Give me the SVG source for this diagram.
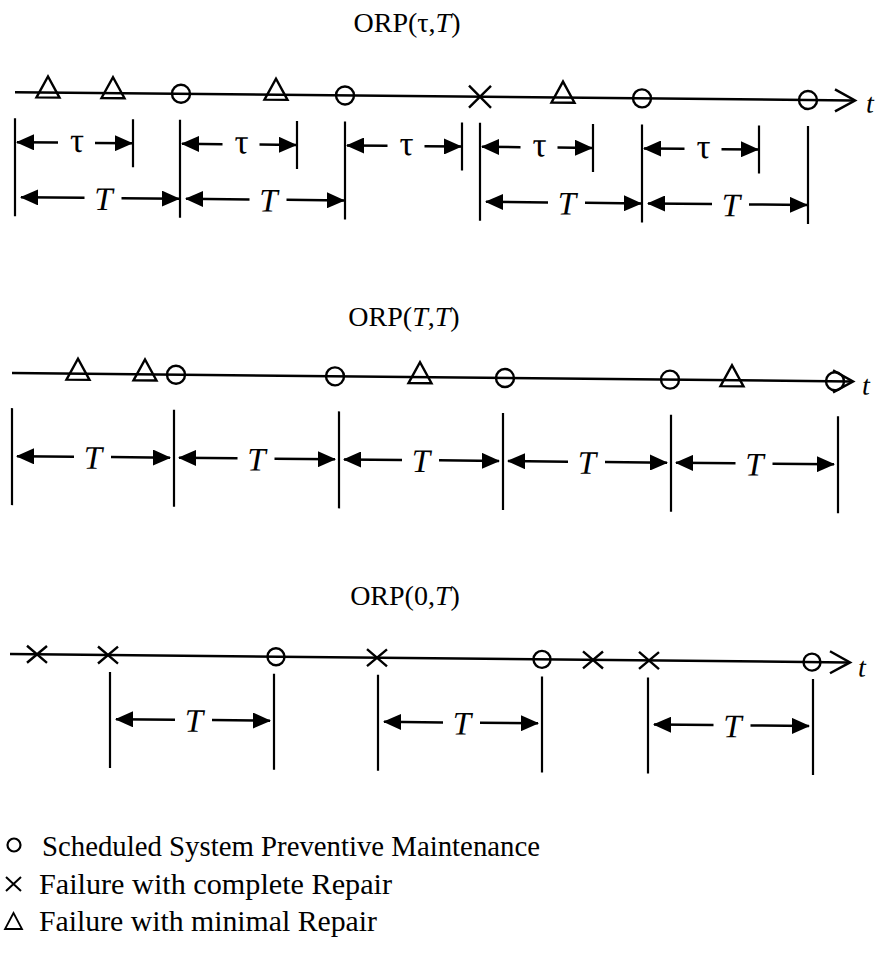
<svg xmlns="http://www.w3.org/2000/svg" width="877" height="956" viewBox="0 0 877 956">
<style>
text { font-family: "Liberation Serif", "Times New Roman", serif; fill: #000; }
.ttl { font-size: 28px; text-anchor: middle; }
.lbl { font-size: 33px; text-anchor: middle; }
.tau { font-size: 35px; text-anchor: middle; }
.it { font-style: italic; }
.ax { stroke: #000; stroke-width: 2.5; fill: none; }
.tk { stroke: #000; stroke-width: 2.2; }
.sym { fill: none; stroke: #000; stroke-width: 2.4; }
.dl { stroke: #000; stroke-width: 2.5; marker-start: url(#ah); }
.dr { stroke: #000; stroke-width: 2.5; marker-end: url(#ah); }
.leg { font-size: 29px; }
</style>
<defs>
<marker id="ah" viewBox="0 0 18 16" refX="17" refY="8" markerWidth="18" markerHeight="16" markerUnits="userSpaceOnUse" orient="auto-start-reverse">
<path d="M0,0 L18,8 L0,16 Z" fill="#000"/>
</marker>
</defs>
<rect width="877" height="956" fill="#fff"/>

<g id="titles">
<text class="ttl" x="407" y="32">ORP(τ,<tspan class="it">T</tspan>)</text>
<text class="ttl" x="404" y="326">ORP(<tspan class="it">T</tspan>,<tspan class="it">T</tspan>)</text>
<text class="ttl" x="405" y="605">ORP(0,<tspan class="it">T</tspan>)</text>
</g>

<g id="panel1" transform="skewY(0.57)">
<g id="axis1">
<line class="ax" x1="15" y1="92" x2="853" y2="92"/>
<path class="ax" d="M835,81 L855,92 L835,103"/>
<text class="it" x="866" y="104" style="font-size:28px">t</text>
</g>
<g id="events1">
<path class="sym" d="M36.5,97 L48,76 L59.5,97 Z"/>
<path class="sym" d="M101.5,97 L113,76 L124.5,97 Z"/>
<circle class="sym" cx="181" cy="92" r="9"/>
<path class="sym" d="M264.5,97 L276,76 L287.5,97 Z"/>
<circle class="sym" cx="345" cy="92" r="9"/>
<path class="sym" d="M469,81 L491,103 M469,103 L491,81"/>
<path class="sym" d="M551.5,97 L563,76 L574.5,97 Z"/>
<circle class="sym" cx="642" cy="92" r="9"/>
<circle class="sym" cx="808" cy="92" r="9"/>
</g>
<g id="ticks1">
<line class="tk" x1="15" y1="118" x2="15" y2="216"/>
<line class="tk" x1="180" y1="118" x2="180" y2="216"/>
<line class="tk" x1="345" y1="118" x2="345" y2="216"/>
<line class="tk" x1="480" y1="118" x2="480" y2="216"/>
<line class="tk" x1="642" y1="118" x2="642" y2="216"/>
<line class="tk" x1="808" y1="118" x2="808" y2="216"/>
<line class="tk" x1="133" y1="118" x2="133" y2="166"/>
<line class="tk" x1="297" y1="118" x2="297" y2="166"/>
<line class="tk" x1="462" y1="118" x2="462" y2="166"/>
<line class="tk" x1="593" y1="118" x2="593" y2="166"/>
<line class="tk" x1="759" y1="118" x2="759" y2="166"/>
</g>
<g id="connectors1">
<line class="dl" x1="17" y1="142" x2="58" y2="142"/><line class="dr" x1="95" y1="142" x2="132" y2="142"/>
<line class="dl" x1="182" y1="142" x2="222.5" y2="142"/><line class="dr" x1="259.5" y1="142" x2="296" y2="142"/>
<line class="dl" x1="347" y1="142" x2="387.5" y2="142"/><line class="dr" x1="424.5" y1="142" x2="461" y2="142"/>
<line class="dl" x1="482" y1="142" x2="520.5" y2="142"/><line class="dr" x1="557.5" y1="142" x2="592" y2="142"/>
<line class="dl" x1="644" y1="142" x2="684.5" y2="142"/><line class="dr" x1="721.5" y1="142" x2="758" y2="142"/>
<line class="dl" x1="21" y1="197" x2="84.5" y2="197"/><line class="dr" x1="121.5" y1="197" x2="179" y2="197"/>
<line class="dl" x1="186" y1="197" x2="249.5" y2="197"/><line class="dr" x1="286.5" y1="197" x2="344" y2="197"/>
<line class="dl" x1="486" y1="197" x2="548" y2="197"/><line class="dr" x1="585" y1="197" x2="641" y2="197"/>
<line class="dl" x1="648" y1="197" x2="712" y2="197"/><line class="dr" x1="749" y1="197" x2="807" y2="197"/>
</g>
<g id="labels1">
<text class="tau" x="77" y="151">τ</text>
<text class="tau" x="241.5" y="151">τ</text>
<text class="tau" x="406.5" y="151">τ</text>
<text class="tau" x="539.5" y="151">τ</text>
<text class="tau" x="703.5" y="151">τ</text>
<text class="lbl it" x="103.5" y="209">T</text>
<text class="lbl it" x="268.5" y="209">T</text>
<text class="lbl it" x="567" y="209">T</text>
<text class="lbl it" x="731" y="209">T</text>
</g>
</g>

<g id="panel2" transform="skewY(0.57)">
<g id="axis2">
<line class="ax" x1="12" y1="373" x2="851" y2="373"/>
<path class="ax" d="M833,362 L853,373 L833,384"/>
<text class="it" x="862" y="386" style="font-size:28px">t</text>
</g>
<g id="events2">
<path class="sym" d="M66.5,379 L78,358 L89.5,379 Z"/>
<path class="sym" d="M133.5,379 L145,358 L156.5,379 Z"/>
<circle class="sym" cx="176" cy="373" r="9"/>
<circle class="sym" cx="335" cy="373" r="9"/>
<path class="sym" d="M408.5,379 L420,358 L431.5,379 Z"/>
<circle class="sym" cx="505" cy="373" r="9"/>
<circle class="sym" cx="670" cy="373" r="9"/>
<path class="sym" d="M720.5,379 L732,358 L743.5,379 Z"/>
<circle class="sym" cx="835" cy="373" r="9"/>
</g>
<g id="ticks2">
<line class="tk" x1="12" y1="408" x2="12" y2="505"/>
<line class="tk" x1="174" y1="408" x2="174" y2="505"/>
<line class="tk" x1="339" y1="408" x2="339" y2="505"/>
<line class="tk" x1="503" y1="408" x2="503" y2="505"/>
<line class="tk" x1="671" y1="408" x2="671" y2="505"/>
<line class="tk" x1="838" y1="408" x2="838" y2="505"/>
</g>
<g id="connectors2">
<line class="dl" x1="17" y1="456" x2="74" y2="456"/><line class="dr" x1="111" y1="456" x2="170" y2="456"/>
<line class="dl" x1="179" y1="456" x2="237.5" y2="456"/><line class="dr" x1="274.5" y1="456" x2="335" y2="456"/>
<line class="dl" x1="344" y1="456" x2="402" y2="456"/><line class="dr" x1="439" y1="456" x2="499" y2="456"/>
<line class="dl" x1="508" y1="456" x2="568" y2="456"/><line class="dr" x1="605" y1="456" x2="667" y2="456"/>
<line class="dl" x1="676" y1="456" x2="735.5" y2="456"/><line class="dr" x1="772.5" y1="456" x2="834" y2="456"/>
</g>
<g id="labels2">
<text class="lbl it" x="93" y="468">T</text>
<text class="lbl it" x="256.5" y="468">T</text>
<text class="lbl it" x="421" y="468">T</text>
<text class="lbl it" x="587" y="468">T</text>
<text class="lbl it" x="754.5" y="468">T</text>
</g>
</g>

<g id="panel3" transform="skewY(0.57)">
<g id="axis3">
<line class="ax" x1="10" y1="654" x2="848" y2="654"/>
<path class="ax" d="M830,643 L850,654 L830,665"/>
<text class="it" x="858" y="668" style="font-size:28px">t</text>
</g>
<g id="events3">
<path class="sym" d="M27,645.5 L47,662.5 M27,662.5 L47,645.5"/>
<path class="sym" d="M98,645.5 L118,662.5 M98,662.5 L118,645.5"/>
<circle class="sym" cx="276" cy="654" r="8.5"/>
<path class="sym" d="M367,645.5 L387,662.5 M367,662.5 L387,645.5"/>
<circle class="sym" cx="542" cy="654" r="8.5"/>
<path class="sym" d="M583,645.5 L603,662.5 M583,662.5 L603,645.5"/>
<path class="sym" d="M639,645.5 L659,662.5 M639,662.5 L659,645.5"/>
<circle class="sym" cx="812" cy="654" r="8.5"/>
</g>
<g id="ticks3">
<line class="tk" x1="110" y1="671" x2="110" y2="767"/>
<line class="tk" x1="274" y1="671" x2="274" y2="767"/>
<line class="tk" x1="378" y1="671" x2="378" y2="767"/>
<line class="tk" x1="542" y1="671" x2="542" y2="767"/>
<line class="tk" x1="648" y1="671" x2="648" y2="767"/>
<line class="tk" x1="813" y1="671" x2="813" y2="767"/>
</g>
<g id="connectors3">
<line class="dl" x1="116" y1="718" x2="175" y2="718"/><line class="dr" x1="212" y1="718" x2="270" y2="718"/>
<line class="dl" x1="384" y1="718" x2="443" y2="718"/><line class="dr" x1="480" y1="718" x2="538" y2="718"/>
<line class="dl" x1="654" y1="718" x2="713.5" y2="718"/><line class="dr" x1="750.5" y1="718" x2="809" y2="718"/>
</g>
<g id="labels3">
<text class="lbl it" x="194" y="730">T</text>
<text class="lbl it" x="462" y="730">T</text>
<text class="lbl it" x="732.5" y="730">T</text>
</g>
</g>

<g id="legend">
<circle cx="14" cy="845" r="6.5" fill="none" stroke="#000" stroke-width="2.2"/>
<text class="leg" x="42" y="856" textLength="498" lengthAdjust="spacingAndGlyphs">Scheduled System Preventive Maintenance</text>
<path d="M6,877 L21,891 M6,891 L21,877" fill="none" stroke="#000" stroke-width="2"/>
<text class="leg" x="39" y="894" textLength="353" lengthAdjust="spacingAndGlyphs">Failure with complete Repair</text>
<path d="M13.5,913 L22,929 L5,929 Z" fill="none" stroke="#000" stroke-width="1.8"/>
<text class="leg" x="39" y="931" textLength="338" lengthAdjust="spacingAndGlyphs">Failure with minimal Repair</text>
</g>
</svg>
